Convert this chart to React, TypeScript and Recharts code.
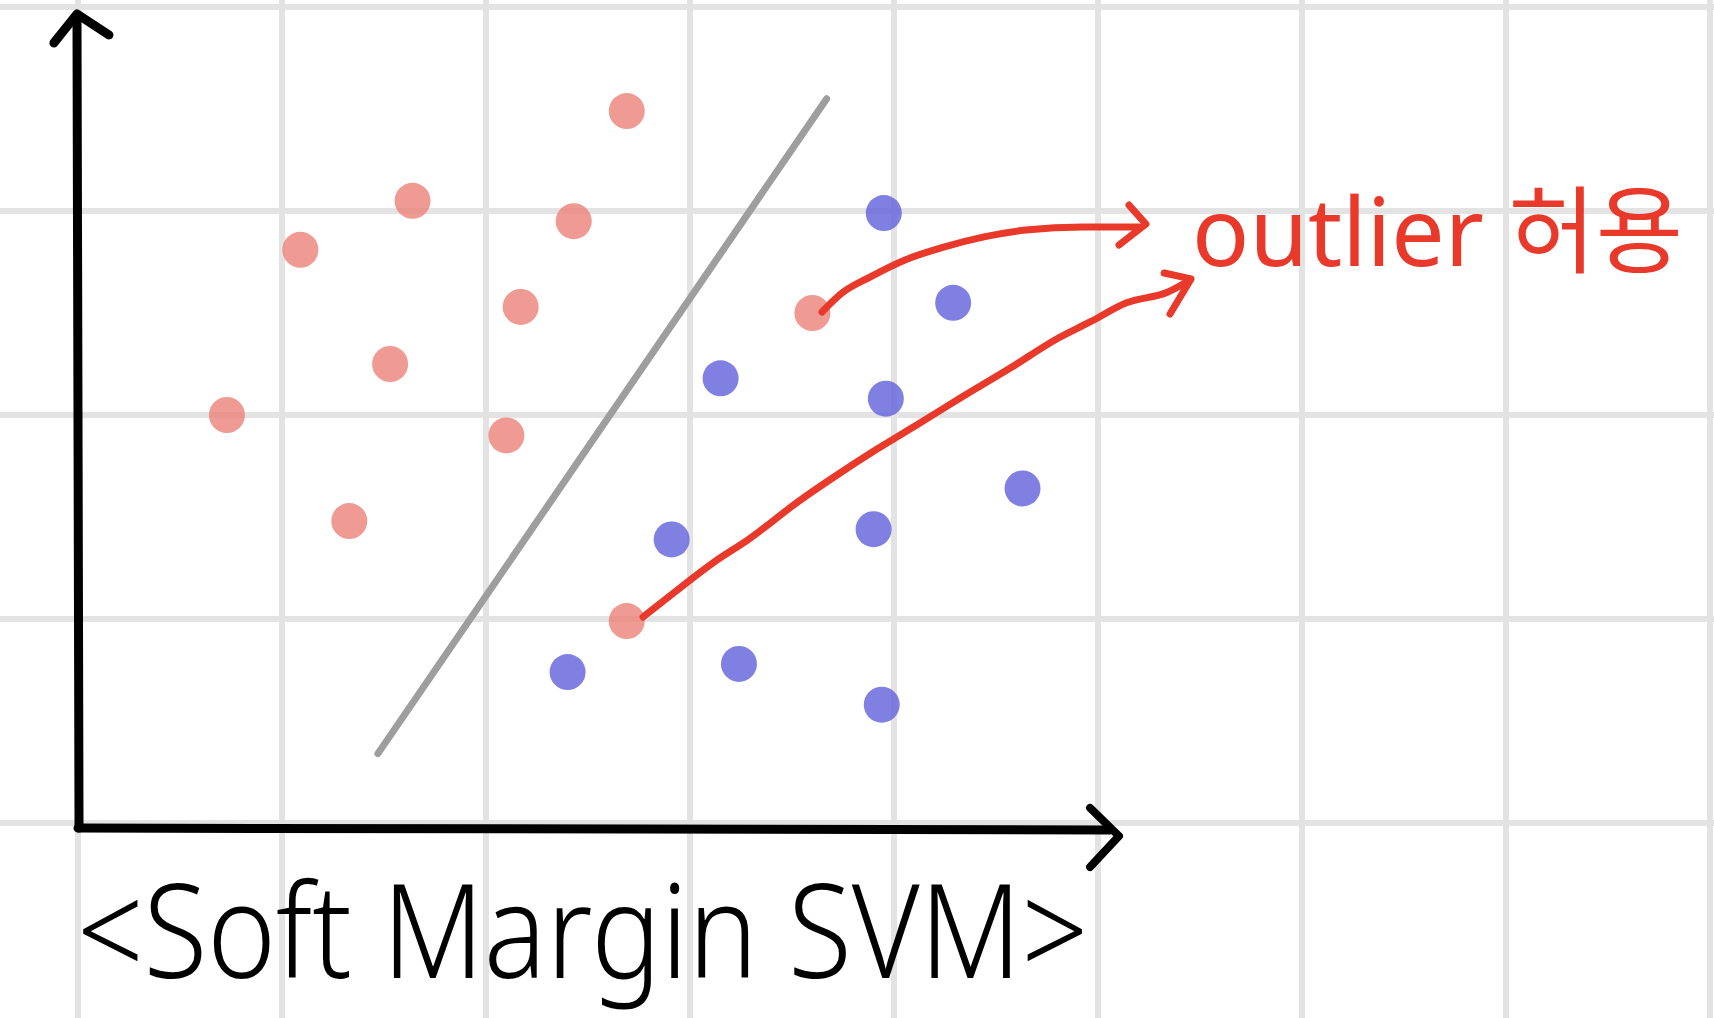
import { Scatter, ScatterChart, XAxis, YAxis } from "recharts";

// one grid square = 1 unit, origin where the axes cross
const redPoints = [
  { x: 2.69, y: 3.49 },
  { x: 1.64, y: 3.05 },
  { x: 1.09, y: 2.81 },
  { x: 2.43, y: 2.95 },
  { x: 2.17, y: 2.53 },
  { x: 1.53, y: 2.25 },
  { x: 0.73, y: 2.0 },
  { x: 2.1, y: 1.9 },
  { x: 1.33, y: 1.48 },
  { x: 3.6, y: 2.5 },
  { x: 2.69, y: 0.99 },
];

const bluePoints = [
  { x: 3.95, y: 2.99 },
  { x: 4.29, y: 2.55 },
  { x: 3.15, y: 2.18 },
  { x: 3.96, y: 2.08 },
  { x: 4.63, y: 1.64 },
  { x: 2.91, y: 1.39 },
  { x: 3.9, y: 1.44 },
  { x: 2.4, y: 0.74 },
  { x: 3.24, y: 0.78 },
  { x: 3.94, y: 0.58 },
];

const separator = [
  { x: 1.47, y: 0.34 },
  { x: 3.67, y: 3.55 },
];

const yAxisStroke = [
  { x: 0.005, y: -0.025 },
  { x: -0.005, y: 3.96 },
];
const yArrowHead = [
  { x: -0.118, y: 3.824 },
  { x: -0.005, y: 3.966 },
  { x: 0.152, y: 3.863 },
];
const xAxisStroke = [
  { x: 0, y: -0.025 },
  { x: 5.06, y: -0.034 },
];
const xArrowHead = [
  { x: 4.961, y: 0.074 },
  { x: 5.103, y: -0.064 },
  { x: 4.961, y: -0.216 },
];

const upperArrow = [
  { x: 3.647, y: 2.505 },
  { x: 3.745, y: 2.598 },
  { x: 3.882, y: 2.676 },
  { x: 4.054, y: 2.76 },
  { x: 4.23, y: 2.819 },
  { x: 4.441, y: 2.873 },
  { x: 4.647, y: 2.907 },
  { x: 4.926, y: 2.922 },
  { x: 5.206, y: 2.922 },
];
const upperArrowHead = [
  { x: 5.152, y: 3.029 },
  { x: 5.235, y: 2.936 },
  { x: 5.103, y: 2.833 },
];

const lowerArrow = [
  { x: 2.77, y: 1.01 },
  { x: 2.907, y: 1.118 },
  { x: 3.118, y: 1.279 },
  { x: 3.289, y: 1.392 },
  { x: 3.534, y: 1.578 },
  { x: 3.706, y: 1.696 },
  { x: 3.917, y: 1.833 },
  { x: 4.127, y: 1.961 },
  { x: 4.333, y: 2.088 },
  { x: 4.578, y: 2.235 },
  { x: 4.789, y: 2.368 },
  { x: 4.961, y: 2.456 },
  { x: 5.137, y: 2.549 },
  { x: 5.343, y: 2.603 },
  { x: 5.451, y: 2.662 },
];
const lowerArrowHead = [
  { x: 5.324, y: 2.696 },
  { x: 5.456, y: 2.667 },
  { x: 5.353, y: 2.495 },
];

const gridX = [0, 1, 2, 3, 4, 5, 6, 7, 8];
const gridY = [0, 1, 2, 3, 4];

const title = "<Soft Margin SVM>";
const note = "outlier 허용";

const RED = "#e8392a";
const W = 1714;
const H = 1018;
const X_DOMAIN = [-78 / 204, (W - 78) / 204];
const Y_DOMAIN = [(823 - H) / 204, 823 / 204];

const noMarker = () => <g />;

const dot = (fill: string) => (props: any) => (
  <circle cx={props.cx} cy={props.cy} r={18} fill={fill} fillOpacity={0.8} />
);

function Stroke({ data, color, width, smooth, cap = "round" }: any) {
  return (
    <Scatter
      data={data}
      line={{
        stroke: color,
        strokeWidth: width,
        strokeLinecap: cap,
        strokeLinejoin: "round",
        fill: "none",
      }}
      lineType="joint"
      lineJointType={smooth ? "monotoneX" : "linear"}
      shape={noMarker}
      isAnimationActive={false}
    />
  );
}

export default function App() {
  return (
    <div
      style={{
        position: "absolute",
        left: 0,
        top: 0,
        width: W,
        height: H,
        background: "#fff",
        overflow: "hidden",
      }}
    >
      <ScatterChart width={W} height={H} margin={{ top: 0, right: 0, bottom: 0, left: 0 }}>
        <XAxis type="number" dataKey="x" hide domain={X_DOMAIN} ticks={gridX} />
        <YAxis type="number" dataKey="y" hide domain={Y_DOMAIN} ticks={gridY} />
        {gridX.map((v) =>
          Stroke({
            data: [
              { x: v, y: Y_DOMAIN[0] },
              { x: v, y: Y_DOMAIN[1] },
            ],
            color: "#e3e3e3",
            width: 6,
            cap: "butt",
          })
        )}
        {gridY.map((v) =>
          Stroke({
            data: [
              { x: X_DOMAIN[0], y: v },
              { x: X_DOMAIN[1], y: v },
            ],
            color: "#e3e3e3",
            width: 6,
            cap: "butt",
          })
        )}
        <Scatter data={redPoints} shape={dot("rgb(235,129,119)")} isAnimationActive={false} />
        <Scatter data={bluePoints} shape={dot("rgb(96,96,219)")} isAnimationActive={false} />
        {Stroke({ data: separator, color: "#9e9e9e", width: 7 })}
        {Stroke({ data: yAxisStroke, color: "#000", width: 9 })}
        {Stroke({ data: yArrowHead, color: "#000", width: 9 })}
        {Stroke({ data: xAxisStroke, color: "#000", width: 9 })}
        {Stroke({ data: xArrowHead, color: "#000", width: 8 })}
        {Stroke({ data: upperArrow, color: RED, width: 7, smooth: true })}
        {Stroke({ data: upperArrowHead, color: RED, width: 7 })}
        {Stroke({ data: lowerArrow, color: RED, width: 7, smooth: true })}
        {Stroke({ data: lowerArrowHead, color: RED, width: 7 })}
      </ScatterChart>
      <svg
        width={W}
        height={H}
        style={{ position: "absolute", left: 0, top: 0, pointerEvents: "none" }}
      >
        <text
          x={1192}
          y={266}
          fontFamily="'Noto Sans', 'Noto Sans CJK KR', sans-serif"
          fontSize={95}
          fill={RED}
          textLength={491}
          lengthAdjust="spacingAndGlyphs"
        >
          {note}
        </text>
        <text
          x={77}
          y={978}
          fontFamily="'Noto Sans', sans-serif"
          fontSize={130}
          fontWeight={300}
          fill="#000"
          textLength={1011}
          lengthAdjust="spacingAndGlyphs"
        >
          {title}
        </text>
      </svg>
    </div>
  );
}
